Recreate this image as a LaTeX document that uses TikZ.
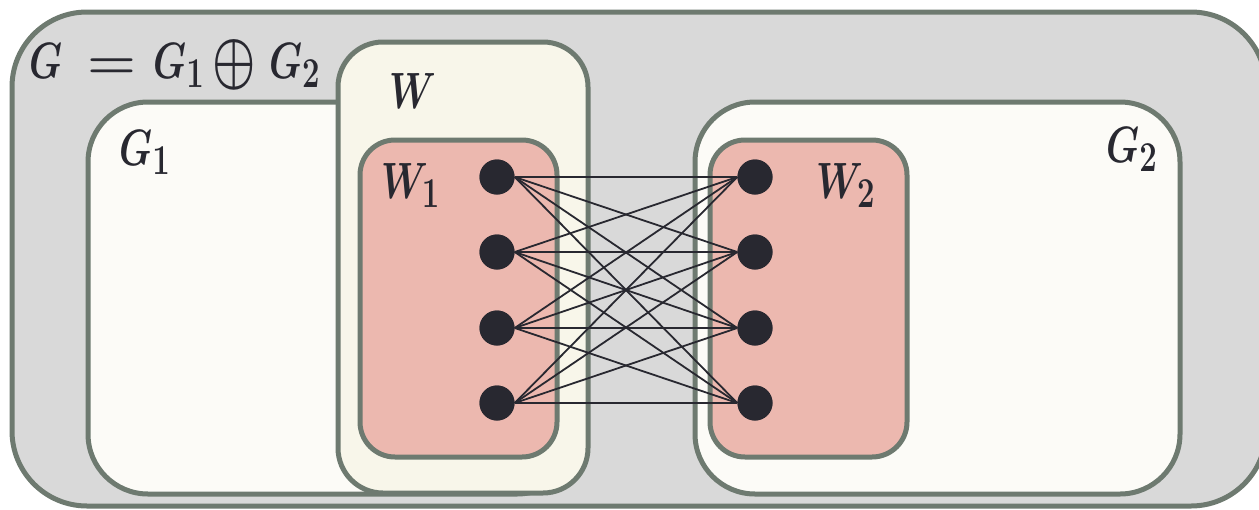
\documentclass[tikz,border=0pt]{standalone}
\usepackage{graphicx}
\definecolor{bord}{HTML}{6E7A70}
\definecolor{outerfill}{HTML}{D9D9D9}
\definecolor{gfill}{HTML}{FCFBF7}
\definecolor{wfill}{HTML}{F8F6EA}
\definecolor{wpink}{HTML}{ECB8AF}
\definecolor{ink}{HTML}{282830}
\tikzset{
  box/.style={draw=bord, line width=5pt, inner sep=0pt, outer sep=0pt},
  vtx/.style={circle, fill=ink, minimum size=35pt, inner sep=0pt},
  edge/.style={draw=ink, line width=1.8pt},
  lbl/.style={text=ink, font=\Huge\boldmath, inner sep=0pt, anchor=base west},
}
\newcommand{\lbltext}[1]{\scalebox{1.5}[2.05]{$#1$}}
\newcommand{\bigop}{\vcenter{\hbox{\scalebox{1.3}{$\oplus$}}}}
\begin{document}
\begin{tikzpicture}[x=1pt,y=-1pt]
\useasboundingbox (0,0) rectangle (1259,509);
% boxes
\node[box, fill=outerfill, rounded corners=75pt, minimum width=1254pt, minimum height=494pt] (outer) at (639,259) {};
\node[box, fill=gfill, rounded corners=60pt, minimum width=489pt, minimum height=392pt] (G1) at (332.5,298) {};
\node[box, fill=gfill, rounded corners=60pt, minimum width=485pt, minimum height=392pt] (G2) at (937.5,298) {};
\node[box, fill=wfill, rounded corners=45pt, minimum width=250pt, minimum height=451pt] (W) at (463,267.5) {};
\node[box, fill=wpink, rounded corners=35pt, minimum width=197pt, minimum height=317pt] (W1) at (458.5,298.5) {};
\node[box, fill=wpink, rounded corners=35pt, minimum width=197pt, minimum height=317pt] (W2) at (808.5,298.5) {};
% labels
\node[lbl] (eq) at (29,78) {\lbltext{G\hspace{17pt}{\scalebox{1.5}[1]{$=$}}\hspace{11pt}G_1\hspace{5pt}{\bigop}\hspace{9pt}G_2}};
\node[lbl] (Wl) at (389,108) {\lbltext{W}};
\node[lbl] (G1l) at (119,165) {\lbltext{G_1}};
\node[lbl] (W1l) at (381,198) {\lbltext{W_1}};
\node[lbl] (W2l) at (816,198) {\lbltext{W_2}};
\node[lbl] (G2l) at (1106,162) {\lbltext{G_2}};
% vertices
\foreach \i/\y in {1/177,2/252,3/328,4/403}{
  \coordinate (lc\i) at (497,\y);
  \coordinate (rc\i) at (755,\y);
}
\foreach \i in {1,...,4}{
  \node[vtx] (l\i) at (lc\i) {};
  \node[vtx] (r\i) at (rc\i) {};
}
\foreach \i in {1,...,4}{
  \foreach \j in {1,...,4}{
    \draw[edge] (l\i.east) -- (r\j.west);
  }
}
\foreach \i in {1,...,4}{
  \node[vtx] at (lc\i) {};
  \node[vtx] at (rc\i) {};
}
\end{tikzpicture}
\end{document}
